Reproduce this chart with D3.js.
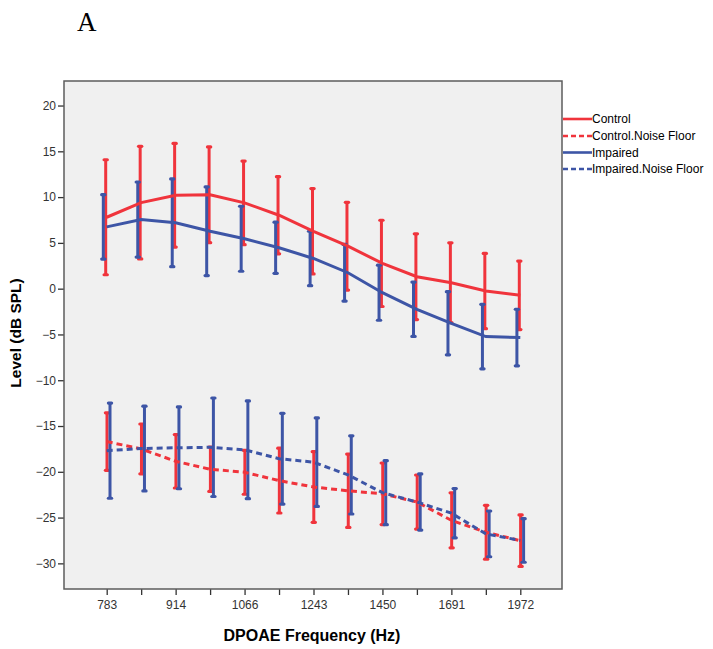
<!DOCTYPE html>
<html>
<head>
<meta charset="utf-8">
<script src="https://cdn.jsdelivr.net/npm/d3@7"></script>
<style>
  html, body { margin: 0; padding: 0; background: #fff; }
  svg { display: block; }
</style>
</head>
<body>
<svg id="chart" width="713" height="649"></svg>
<script>
// ---- data ----
const categories = ["783","845","914","986","1066","1150","1243","1343","1450","1566","1691","1826","1972"];
const tickLabels = ["783","","914","","1066","","1243","","1450","","1691","","1972"];
const yTicks = [-30,-25,-20,-15,-10,-5,0,5,10,15,20];

const controlMean = [7.8, 9.4, 10.2, 10.25, 9.37, 8.02, 6.27, 4.64, 2.76, 1.31, 0.65, -0.26, -0.73];
const controlErr  = [6.28, 6.15, 5.66, 5.23, 4.57, 4.21, 4.66, 4.79, 4.71, 4.68, 4.36, 4.11, 3.74];

const controlNFMean = [-16.7, -17.5, -18.85, -19.72, -20.05, -20.96, -21.66, -22.07, -22.4, -23.3, -25.3, -26.6, -27.52];
const controlNFErr  = [3.14, 2.72, 2.92, 2.42, 2.4, 3.54, 3.86, 4.01, 3.36, 2.95, 3.0, 2.94, 2.81];

const impairedMean = [6.75, 7.55, 7.19, 6.27, 5.45, 4.47, 3.3, 1.74, -0.44, -2.25, -3.78, -5.23, -5.34];
const impairedErr  = [3.52, 4.1, 4.79, 4.84, 3.55, 2.79, 2.97, 3.09, 3.01, 2.97, 3.45, 3.52, 3.09];

const impairedNFMean = [-17.69, -17.46, -17.38, -17.32, -17.6, -18.57, -18.95, -20.34, -22.28, -23.3, -24.52, -26.78, -27.5];
const impairedNFErr  = [5.2, 4.63, 4.47, 5.38, 5.34, 4.96, 4.83, 4.27, 3.49, 3.07, 2.69, 2.5, 2.38];

const seriesNames = ["Control", "Control.Noise Floor", "Impaired", "Impaired.Noise Floor"];

// ---- styling ----
const RED = "#f0343c";
const BLUE = "#3d55a6";
const series = [
  { name: seriesNames[0], mean: controlMean,    err: controlErr,    color: RED,  dash: null,  off: -1.0 },
  { name: seriesNames[1], mean: controlNFMean,  err: controlNFErr,  color: RED,  dash: "6,4", off: 0.3 },
  { name: seriesNames[2], mean: impairedMean,   err: impairedErr,   color: BLUE, dash: null,  off: -3.4 },
  { name: seriesNames[3], mean: impairedNFMean, err: impairedNFErr, color: BLUE, dash: "6,4", off: 3.3 }
];

const svg = d3.select("#chart");
const plot = { left: 64, right: 562, top: 81, bottom: 589 };

const x = d3.scalePoint().domain(categories).range([106.7, 520.3]);
const y = d3.scaleLinear().domain([-32.8, 22.68]).range([plot.bottom, plot.top]);

// title letter
svg.append("text")
  .attr("x", 77).attr("y", 31)
  .attr("font-family", "Liberation Serif, Times New Roman, serif")
  .attr("font-size", 27)
  .attr("fill", "#000")
  .text("A");

// plot background
svg.append("rect")
  .attr("x", plot.left).attr("y", plot.top)
  .attr("width", plot.right - plot.left).attr("height", plot.bottom - plot.top)
  .attr("fill", "#f0f0f0");

// axes
const yAxis = d3.axisLeft(y).tickValues(yTicks).tickSize(6).tickSizeOuter(0).tickPadding(2);
const gy = svg.append("g").attr("transform", `translate(${plot.left},0)`).call(yAxis);
gy.select(".domain").remove();
gy.selectAll(".tick line").attr("stroke", "#333").attr("stroke-width", 1.3);
gy.selectAll(".tick text")
  .attr("font-family", "Arial, Liberation Sans, sans-serif")
  .attr("font-size", 12).attr("fill", "#333");

const xAxis = d3.axisBottom(x).tickSize(6).tickSizeOuter(0).tickPadding(5)
  .tickFormat((d, i) => tickLabels[i]);
const gx = svg.append("g").attr("transform", `translate(0,${plot.bottom})`).call(xAxis);
gx.select(".domain").remove();
gx.selectAll(".tick line").attr("stroke", "#333").attr("stroke-width", 1.3);
gx.selectAll(".tick text")
  .attr("font-family", "Arial, Liberation Sans, sans-serif")
  .attr("font-size", 12).attr("fill", "#333");

// frame
svg.append("rect")
  .attr("x", plot.left).attr("y", plot.top)
  .attr("width", plot.right - plot.left).attr("height", plot.bottom - plot.top)
  .attr("fill", "none").attr("stroke", "#5c5c5c").attr("stroke-width", 1.5);

// axis titles
svg.append("text")
  .attr("transform", `translate(21,${(plot.top + plot.bottom) / 2 - 2}) rotate(-90)`)
  .attr("text-anchor", "middle")
  .attr("font-family", "Arial, Liberation Sans, sans-serif")
  .attr("font-weight", "bold").attr("font-size", 15.5).attr("fill", "#000")
  .text("Level (dB SPL)");

svg.append("text")
  .attr("x", (plot.left + plot.right) / 2 - 1).attr("y", 641)
  .attr("text-anchor", "middle")
  .attr("font-family", "Arial, Liberation Sans, sans-serif")
  .attr("font-weight", "bold").attr("font-size", 16).attr("fill", "#000")
  .text("DPOAE Frequency (Hz)");

// error bars + lines
const line = d3.line().x((d, i) => x(categories[i])).y(d => y(d)).curve(d3.curveLinear);
const drawOrder = [0, 2, 1, 3];
// error bars first for each group, then lines on top
drawOrder.forEach(si => {
  const s = series[si];
  const g = svg.append("g");
  s.mean.forEach((m, i) => {
    const cx = x(categories[i]) + s.off;
    const top = y(m + s.err[i]);
    const bot = y(m - s.err[i]);
    g.append("line")
      .attr("x1", cx).attr("x2", cx).attr("y1", top).attr("y2", bot)
      .attr("stroke", s.color).attr("stroke-width", 3);
    [top, bot].forEach(yy => {
      g.append("line")
        .attr("x1", cx - 1.6).attr("x2", cx + 1.6).attr("y1", yy).attr("y2", yy)
        .attr("stroke", s.color).attr("stroke-width", 3.2).attr("stroke-linecap", "round");
    });
  });
});
drawOrder.forEach(si => {
  const s = series[si];
  svg.append("path")
    .datum(s.mean)
    .attr("d", line)
    .attr("fill", "none")
    .attr("stroke", s.color)
    .attr("stroke-width", 3)
    .attr("stroke-dasharray", s.dash);
});

// legend
const legY = [119, 136, 152.5, 169];
series.forEach((s, i) => {
  svg.append("line")
    .attr("x1", 563).attr("x2", 592).attr("y1", legY[i]).attr("y2", legY[i])
    .attr("stroke", s.color).attr("stroke-width", 2.6)
    .attr("stroke-dasharray", s.dash ? "5,3" : null);
  svg.append("text")
    .attr("x", 592).attr("y", legY[i] + 4.3)
    .attr("font-family", "Arial, Liberation Sans, sans-serif")
    .attr("font-size", 12).attr("fill", "#000")
    .text(s.name);
});
</script>
</body>
</html>
